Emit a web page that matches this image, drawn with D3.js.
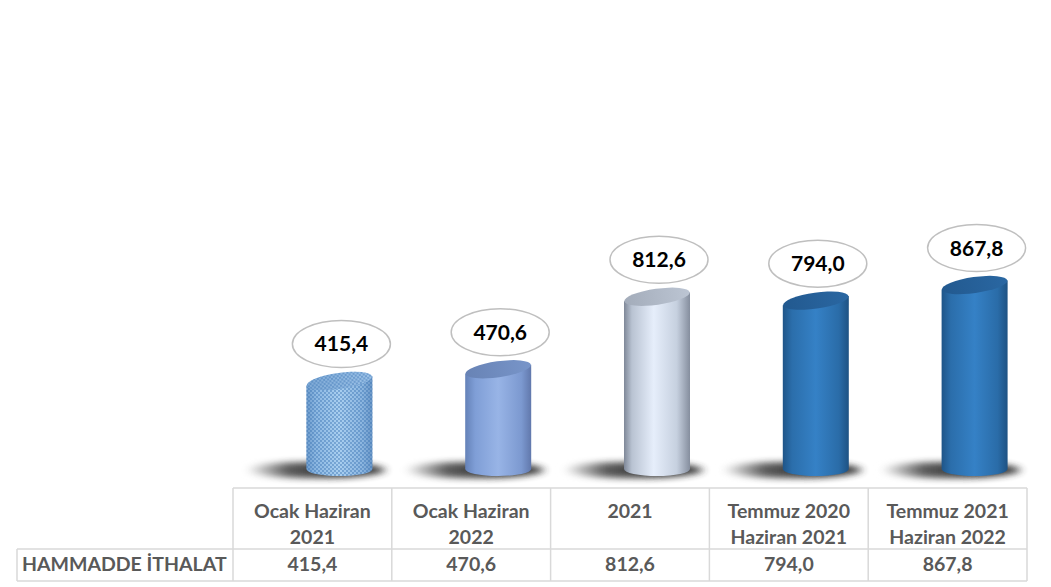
<!DOCTYPE html>
<html><head><meta charset="utf-8">
<script src="https://cdn.jsdelivr.net/npm/d3@7"></script>
<style>html,body{margin:0;padding:0;background:#fff;}svg{display:block;}</style>
</head><body>
<script>
const categories = [["Ocak Haziran","2021"],["Ocak Haziran","2022"],["2021"],["Temmuz 2020","Haziran 2021"],["Temmuz 2021","Haziran 2022"]];
const values = [415.4, 470.6, 812.6, 794.0, 867.8];
const seriesName = "HAMMADDE İTHALAT";
const barStyles = ["dotted","periwinkle","silver","blue","blue"];

const W = 1051, H = 587;
const svg = d3.select("body").append("svg").attr("width", W).attr("height", H);
const defs = svg.append("defs");
const fmt = d3.formatLocale({decimal:",", thousands:".", grouping:[3], currency:["",""]}).format(".1f");

const x = d3.scaleBand().domain(d3.range(categories.length)).range([233, 1027]);
const y = d3.scaleLinear().domain([0, 1000]).range([469, 257]);

function grad(id, stops, vertical){
  const g = defs.append("linearGradient").attr("id", id)
    .attr("x1","0").attr("y1","0").attr("x2", vertical?"0":"1").attr("y2", vertical?"1":"0");
  stops.forEach(s => g.append("stop").attr("offset", s[0]).attr("stop-color", s[1]));
}
grad("g-dotted", [["0","#6f9ccc"],["0.15","#8db8e2"],["0.5","#a9cff0"],["0.85","#8bb5df"],["1","#6a96c6"]]);
grad("g-dotted-top", [["0","#7faad6"],["1","#9cc2e8"]]);
grad("g-periwinkle", [["0","#6582b8"],["0.15","#7f9ed6"],["0.5","#98b4e6"],["0.85","#7c99d0"],["1","#6178ac"]]);
grad("g-periwinkle-top", [["0","#6883b5"],["1","#7895c9"]]);
grad("g-silver", [["0","#7f8898"],["0.12","#b9c3d2"],["0.45","#e6eefb"],["0.8","#c6d0df"],["1","#858e9e"]]);
grad("g-silver-top", [["0","#a3acba"],["1","#bcc5d3"]]);
grad("g-blue", [["0","#1f5588"],["0.14","#2b6eab"],["0.5","#3581c6"],["0.85","#2a6ca8"],["1","#1e5283"]]);
grad("g-blue-top", [["0","#22598f"],["1","#2a67a2"]]);

const pat = defs.append("pattern").attr("id","dots").attr("patternUnits","userSpaceOnUse").attr("width",4).attr("height",4);
pat.append("circle").attr("cx",1).attr("cy",1).attr("r",0.9).attr("fill","#3b74b2").attr("opacity",0.65);
pat.append("circle").attr("cx",3).attr("cy",3).attr("r",0.9).attr("fill","#3b74b2").attr("opacity",0.65);

const blur = defs.append("filter").attr("id","blur").attr("x","-50%").attr("y","-200%").attr("width","200%").attr("height","500%");
blur.append("feGaussianBlur").attr("stdDeviation","4 3");
grad("g-shadow", [["0","#ffffff"],["0.3","#555555"],["0.72","#1a1a1a"],["1","#3a3a3a"]]);

const rx = 33, ry = 7, tilt = 8;
const rad = tilt * Math.PI / 180;
const cxOf = i => x(i) + x.bandwidth()/2 + 27;

const bars = svg.append("g").selectAll("g").data(values).join("g");

// shadows
bars.append("ellipse")
  .attr("cx", (d,i) => cxOf(i) - 24).attr("cy", y(0) + 1)
  .attr("rx", 70).attr("ry", 8)
  .attr("fill", "url(#g-shadow)").attr("opacity", 0.95).attr("filter","url(#blur)");

const bodyPath = (d,i) => {
  const cx = cxOf(i), yt = y(d), yb = y(0);
  return `M${cx-rx},${yt+rx*Math.sin(rad)} L${cx-rx},${yb} A${rx},${ry} 0 0 0 ${cx+rx},${yb} L${cx+rx},${yt-rx*Math.sin(rad)} Z`;
};
bars.append("path").attr("d", bodyPath).attr("fill", (d,i) => `url(#g-${barStyles[i]})`);
bars.filter((d,i) => barStyles[i] === "dotted").append("path").attr("d", bodyPath).attr("fill","url(#dots)");

// tops
bars.append("ellipse")
  .attr("transform", (d,i) => `translate(${cxOf(i)},${y(d)}) rotate(${-tilt})`)
  .attr("rx", rx).attr("ry", ry + 1)
  .attr("fill", (d,i) => `url(#g-${barStyles[i]}-top)`);
bars.filter((d,i) => barStyles[i] === "dotted").append("ellipse")
  .attr("transform", (d,i) => `translate(${cxOf(i)},${y(d)}) rotate(${-tilt})`)
  .attr("rx", rx).attr("ry", ry + 1).attr("fill","url(#dots)");

// value labels
const lab = svg.append("g").selectAll("g").data(values).join("g")
  .attr("transform", (d,i) => `translate(${cxOf(i)+2},${y(d) - 37})`);
lab.append("ellipse").attr("rx", 49).attr("ry", 23.5)
  .attr("fill","#fff").attr("stroke","#bfbfbf").attr("stroke-width",1.5);
lab.append("text").attr("text-anchor","middle").attr("dy","0.36em")
  .attr("font-family","Lato, 'Open Sans', sans-serif").attr("font-weight","bold")
  .attr("font-size",21).attr("fill","#000").text(d => fmt(d));

// data table
const tTop = 488, tMid = 549, tBot = 581, tLeft = 17;
const tbl = svg.append("g");
const lineC = "#d9d9d9";
tbl.append("line").attr("x1", x.range()[0]).attr("x2", x.range()[1]).attr("y1", tTop).attr("y2", tTop);
tbl.append("line").attr("x1", tLeft).attr("x2", x.range()[1]).attr("y1", tMid).attr("y2", tMid);
tbl.append("line").attr("x1", tLeft).attr("x2", x.range()[1]).attr("y1", tBot).attr("y2", tBot);
tbl.append("line").attr("x1", tLeft).attr("x2", tLeft).attr("y1", tMid).attr("y2", tBot);
tbl.selectAll("line.v").data(d3.range(categories.length + 1)).join("line").attr("class","v")
  .attr("x1", i => i < categories.length ? x(i) : x.range()[1])
  .attr("x2", i => i < categories.length ? x(i) : x.range()[1])
  .attr("y1", tTop).attr("y2", tBot);
tbl.selectAll("line").attr("stroke", lineC).attr("stroke-width", 1.5);

const tf = "Lato, 'Open Sans', sans-serif";
const fs = 19.5;
const hdr = tbl.append("g").selectAll("text").data(categories).join("text")
  .attr("x", (d,i) => x(i) + x.bandwidth()/2).attr("y", tTop + 30)
  .attr("text-anchor","middle").attr("font-family", tf).attr("font-weight","bold")
  .attr("font-size", fs).attr("fill","#595959");
hdr.selectAll("tspan").data(d => d).join("tspan")
  .attr("x", function(){ return this.parentNode.getAttribute("x"); })
  .attr("dy", (d,j) => j === 0 ? 0 : 26).text(d => d);

tbl.append("g").selectAll("text").data(values).join("text")
  .attr("x", (d,i) => x(i) + x.bandwidth()/2).attr("y", tMid + 22)
  .attr("text-anchor","middle").attr("font-family", tf).attr("font-weight","bold")
  .attr("font-size", fs).attr("fill","#595959").text(d => fmt(d));
tbl.append("text").attr("x", 22).attr("y", tMid + 22)
  .attr("font-family", tf).attr("font-weight","bold")
  .attr("font-size", fs).attr("fill","#595959").text(seriesName);
</script>
</body></html>
